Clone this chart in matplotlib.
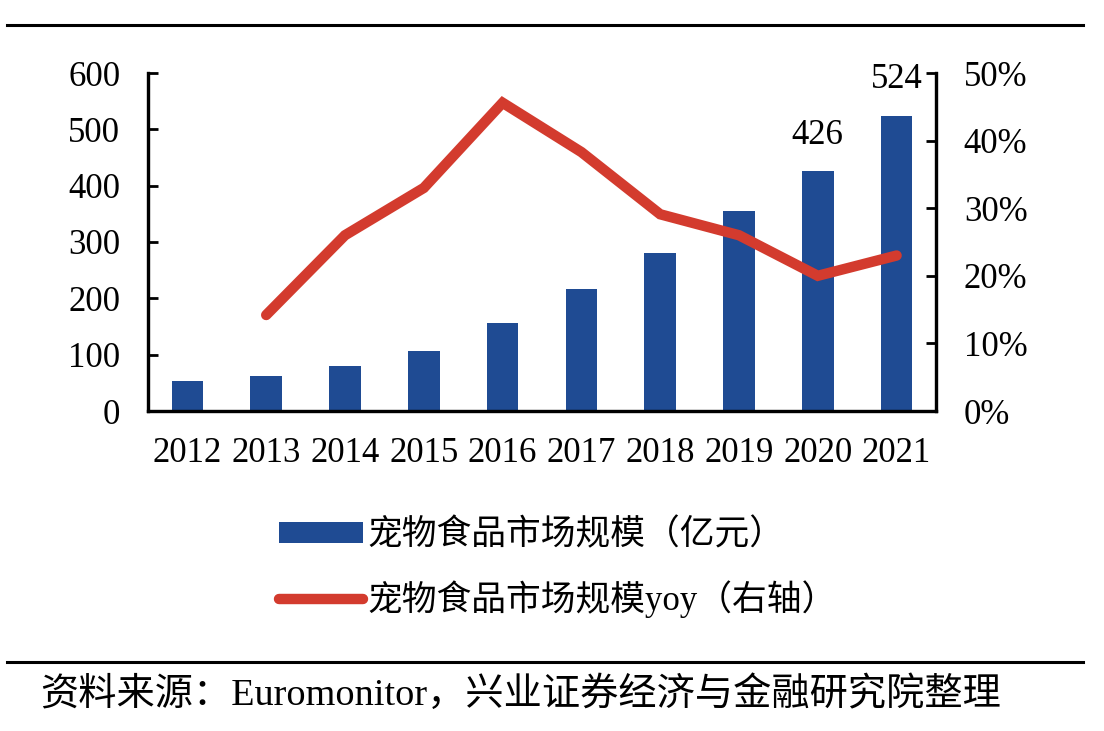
import matplotlib
matplotlib.use("Agg")
import matplotlib.pyplot as plt
from matplotlib.lines import Line2D
from matplotlib.ticker import FuncFormatter

plt.rcParams['font.family'] = ['Liberation Serif', 'Noto Sans CJK SC']

years = ['2012', '2013', '2014', '2015', '2016', '2017', '2018', '2019', '2020', '2021']
market_size = [54, 62, 80, 106, 156, 217, 281, 355, 426, 524]
yoy_years = ['2013', '2014', '2015', '2016', '2017', '2018', '2019', '2020', '2021']
yoy = [14.2, 26.0, 33.0, 45.6, 38.3, 29.1, 26.0, 20.0, 23.0]
label_years = ['2020', '2021']
left_ticks = [0, 100, 200, 300, 400, 500, 600]
right_ticks = [0, 10, 20, 30, 40, 50]

bar_label = '宠物食品市场规模（亿元）'
line_label = '宠物食品市场规模yoy（右轴）'
source_text = '资料来源：Euromonitor，兴业证券经济与金融研究院整理'

BLUE = '#1F4B93'
RED = '#D33B2E'
FS = 25

fig = plt.figure(figsize=(11.04, 7.31), dpi=100)
ax = fig.add_axes([148/1104, 1-411/731, (936-148)/1104, (411-73)/731])
ax2 = ax.twinx()

x = list(range(len(years)))
bars = ax.bar(x, market_size, width=0.4, color=BLUE, label=bar_label, zorder=2)
xl = [years.index(y) for y in yoy_years]
line, = ax2.plot(xl, yoy, color=RED, lw=7.5, solid_capstyle='round',
                 solid_joinstyle='miter', label=line_label, zorder=3)

for y in label_years:
    i = years.index(y)
    ax.annotate(str(market_size[i]), (i, market_size[i]), xytext=(0, 14),
                textcoords='offset points', ha='center', va='bottom', fontsize=FS)

ax.set_xlim(-0.5, len(years) - 0.5)
ax.set_ylim(0, 600)
ax2.set_ylim(0, 50)
ax.set_xticks(x)
ax.set_xticklabels(years)
ax.set_yticks(left_ticks)
ax2.set_yticks(right_ticks)
ax2.yaxis.set_major_formatter(FuncFormatter(lambda v, p: f'{int(v)}%'))

for a in (ax, ax2):
    a.spines['top'].set_visible(False)
    for s in ('left', 'right', 'bottom'):
        a.spines[s].set_linewidth(2.3)
    a.tick_params(axis='y', direction='in', length=7, width=2.0, labelsize=FS, pad=20)
    a.tick_params(axis='x', length=0, labelsize=FS, pad=19)

fig.legend([bars, line], [bar_label, line_label], loc='upper left',
           bbox_to_anchor=(248/1104, 1-488/731), frameon=False, fontsize=FS,
           handlelength=2.4, handleheight=0.55, labelspacing=0.8, handletextpad=0.15)

fig.add_artist(Line2D([7/1104, 1083/1104], [1-25/731, 1-25/731], color='black', lw=2.2))
fig.add_artist(Line2D([7/1104, 1083/1104], [1-662/731, 1-662/731], color='black', lw=2.2))
fig.text(40/1104, 1-695/731, source_text, fontsize=27.5, va='center', ha='left')

fig.savefig('out.png', dpi=100)
